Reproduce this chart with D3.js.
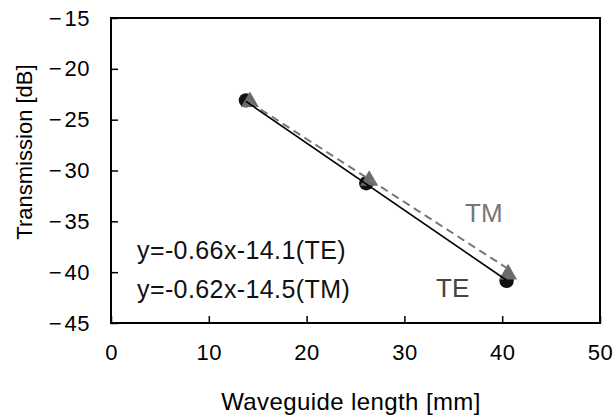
<!DOCTYPE html>
<html>
<head>
<meta charset="utf-8">
<script src="https://cdn.jsdelivr.net/npm/d3@7"></script>
<style>
  html, body { margin: 0; padding: 0; background: #fff; }
  svg { display: block; font-family: "Liberation Sans", Arial, Helvetica, sans-serif; }
</style>
</head>
<body>
<svg id="chart" width="614" height="416"></svg>
<script>
// ---- data ----
const teX = [13.8, 26.1, 40.45];
const teY = [-23.1, -31.25, -40.85];
const tmX = [14.2, 26.4, 40.6];
const tmY = [-23.25, -31.0, -40.2];
const teFit = { slope: -0.66, intercept: -14.1 };
const tmFit = { slope: -0.62, intercept: -14.5 };
const xTicks = [0, 10, 20, 30, 40, 50];
const yTicks = [-45, -40, -35, -30, -25, -20, -15];
const equations = ["y=-0.66x-14.1(TE)", "y=-0.62x-14.5(TM)"];

const W = 614, H = 416;
const margin = { left: 111, right: 14, top: 18, bottom: 93 };
const svg = d3.select("#chart");

const x = d3.scaleLinear().domain([0, 50]).range([margin.left, W - margin.right]);
const y = d3.scaleLinear().domain([-45, -15]).range([H - margin.bottom, margin.top]);

// frame
svg.append("rect")
  .attr("x", x(0)).attr("y", y(-15))
  .attr("width", x(50) - x(0)).attr("height", y(-45) - y(-15))
  .attr("fill", "none").attr("stroke", "#000").attr("stroke-width", 2);

// axes (ticks inward)
const xAxis = d3.axisBottom(x).tickValues(xTicks).tickSize(-7).tickPadding(21).tickFormat(d3.format("d"));
const gx = svg.append("g").attr("transform", `translate(0,${y(-45)})`).call(xAxis);
gx.select(".domain").remove();
gx.selectAll(".tick line").attr("stroke", "#000").attr("stroke-width", 1.5);
gx.selectAll(".tick text").attr("fill", "#000").style("font-size", "22px").style("letter-spacing", "0.5px");

const yAxis = d3.axisLeft(y).tickValues(yTicks).tickSize(-7).tickPadding(21)
  .tickFormat(d => "\u2212\u200A" + Math.abs(d));
const gy = svg.append("g").attr("transform", `translate(${x(0)},0)`).call(yAxis);
gy.select(".domain").remove();
gy.selectAll(".tick line").attr("stroke", "#000").attr("stroke-width", 1.5);
gy.selectAll(".tick text").attr("fill", "#000").style("font-size", "22px").style("letter-spacing", "0.5px");

// axis titles
svg.append("text").attr("x", 351).attr("y", 410).attr("text-anchor", "middle")
  .style("font-size", "24px").style("letter-spacing", "0.4px").attr("fill", "#000").text("Waveguide length [mm]");
svg.append("text").attr("transform", "translate(32,152) rotate(-90)").attr("text-anchor", "middle")
  .style("font-size", "22px").attr("fill", "#000").text("Transmission [dB]");

// markers
const te = teX.map((v, i) => ({ x: v, y: teY[i] }));
const tm = tmX.map((v, i) => ({ x: v, y: tmY[i] }));

svg.append("g").selectAll("circle").data(te).join("circle")
  .attr("cx", d => x(d.x)).attr("cy", d => y(d.y)).attr("r", 7.2)
  .attr("fill", "#111");

svg.append("g").selectAll("path").data(tm).join("path")
  .attr("d", d3.symbol().type(d3.symbolTriangle).size(140))
  .attr("transform", d => `translate(${x(d.x)},${y(d.y)})`)
  .attr("fill", "#6b6b6b");

// trendlines
const teX0 = d3.min(teX), teX1 = d3.max(teX);
const tmX0 = d3.min(tmX), tmX1 = d3.max(tmX);
const line = d3.line().x(d => x(d[0])).y(d => y(d[1]));
svg.append("path")
  .attr("d", line([[tmX0, tmFit.slope * tmX0 + tmFit.intercept], [tmX1, tmFit.slope * tmX1 + tmFit.intercept]]))
  .attr("stroke", "#777").attr("stroke-width", 2).attr("stroke-dasharray", "8,5").attr("fill", "none");
svg.append("path")
  .attr("d", line([[teX0, teFit.slope * teX0 + teFit.intercept], [teX1, teFit.slope * teX1 + teFit.intercept]]))
  .attr("stroke", "#000").attr("stroke-width", 1.6).attr("fill", "none");

// labels
svg.append("text").attr("x", 465).attr("y", 222).style("font-size", "26px").attr("fill", "#777").text("TM");
svg.append("text").attr("x", 436).attr("y", 297).style("font-size", "26px").attr("fill", "#444").text("TE");

svg.selectAll("text.eq").data(equations).join("text").attr("class", "eq")
  .attr("x", 137).attr("y", (d, i) => 259 + i * 39)
  .style("font-size", "25px").style("letter-spacing", "0.4px").attr("fill", "#111").text(d => d);
</script>
</body>
</html>
